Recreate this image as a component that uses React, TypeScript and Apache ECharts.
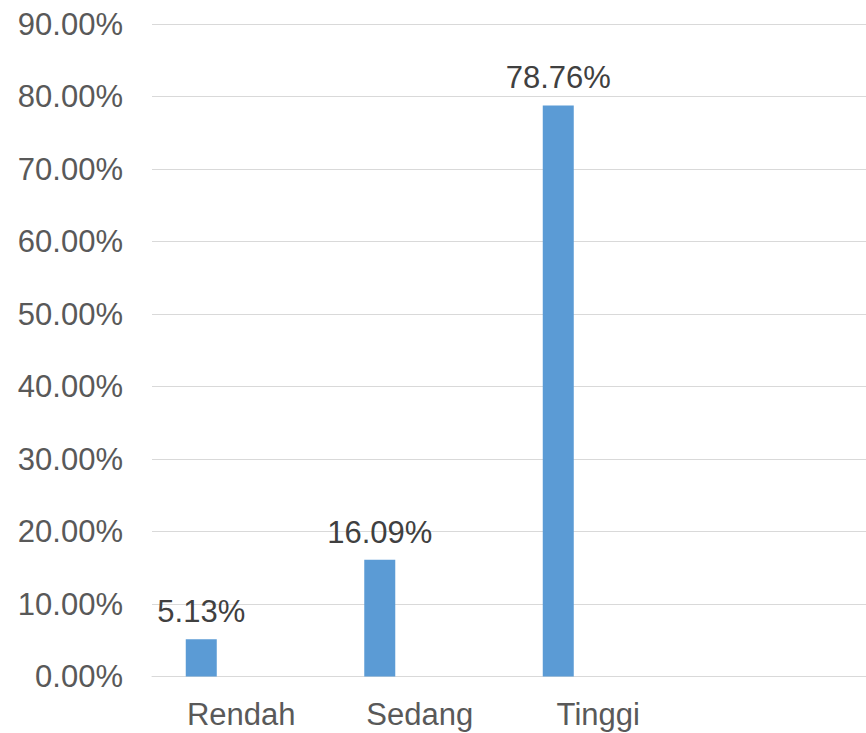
import React, { useEffect, useRef } from "react";
import * as echarts from "echarts";

const categories = ["Rendah", "Sedang", "Tinggi", ""];
const values = [5.13, 16.09, 78.76, null];
const emptySeries = [null, null, null, null];
const yTicks = { min: 0, max: 90, interval: 10 };

export default function App() {
  const ref = useRef<HTMLDivElement>(null);
  useEffect(() => {
    if (!ref.current) return;
    const chart = echarts.init(ref.current, null, { renderer: "svg" });
    const font = "'Liberation Sans', Arial, sans-serif";
    chart.setOption({
      animation: false,
      grid: { left: 152, top: 24, width: 716, height: 652.5 },
      xAxis: {
        type: "category",
        data: categories,
        axisLine: { show: true, lineStyle: { color: "#D9D9D9", width: 1 } },
        axisTick: { show: false },
        axisLabel: { color: "#595959", fontSize: 31, fontFamily: font, margin: 22, interval: 0 },
      },
      yAxis: {
        type: "value",
        min: yTicks.min,
        max: yTicks.max,
        interval: yTicks.interval,
        axisLine: { show: false },
        axisTick: { show: false },
        splitLine: { lineStyle: { color: "#D9D9D9", width: 1 } },
        axisLabel: {
          color: "#595959",
          fontSize: 31,
          fontFamily: font,
          margin: 29,
          formatter: (v: number) => v.toFixed(2) + "%",
        },
      },
      series: [
        {
          type: "bar",
          data: values,
          barWidth: 31,
          barGap: "158%",
          itemStyle: { color: "#5B9BD5" },
          label: {
            show: true,
            position: "top",
            distance: 12,
            color: "#404040",
            fontSize: 31,
            fontFamily: font,
            formatter: (p: any) => Number(p.value).toFixed(2) + "%",
          },
        },
        {
          type: "bar",
          data: emptySeries,
          barWidth: 31,
          itemStyle: { color: "#ED7D31" },
        },
      ],
    });
    return () => chart.dispose();
  }, []);
  return (
    <div
      ref={ref}
      style={{ position: "absolute", left: 0, top: 0, width: 866, height: 733, background: "#fff" }}
    />
  );
}
